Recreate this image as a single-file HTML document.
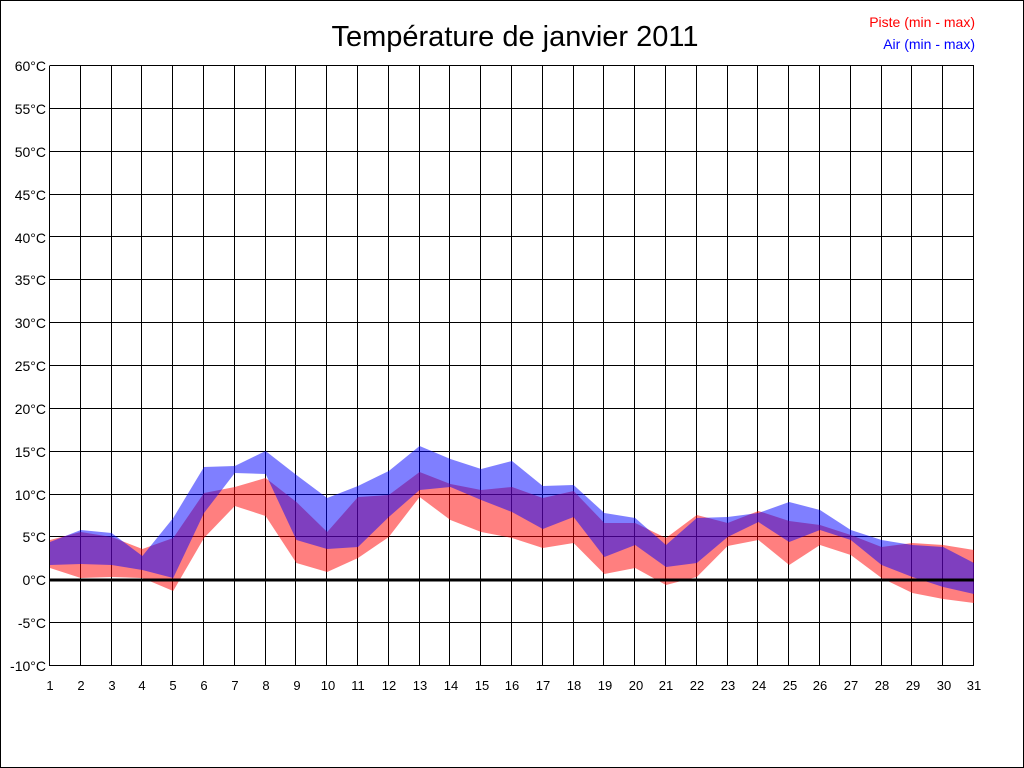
<!DOCTYPE html>
<html><head><meta charset="utf-8"><style>
html,body{margin:0;padding:0;background:#fff;}
svg{display:block;font-family:"Liberation Sans",sans-serif;}
</style></head><body>
<svg id="s" width="1024" height="768" xmlns="http://www.w3.org/2000/svg">
<rect x="0.5" y="0.5" width="1023" height="767" fill="#fff" stroke="#000"/>
<g id="grid" stroke="#000" stroke-width="1" shape-rendering="crispEdges"></g>
<g id="bands"></g>
<line x1="50" y1="580" x2="974" y2="580" stroke="#000" stroke-width="3"/>
<text x="515" y="46" font-size="29" text-anchor="middle">Température de janvier 2011</text>
<text x="975" y="27" font-size="14" text-anchor="end" fill="#f00">Piste (min - max)</text>
<text x="975" y="49" font-size="14" text-anchor="end" fill="#00f">Air (min - max)</text>
<g font-size="14" text-anchor="end" fill="#000">
<text x="46" y="71">60°C</text><text x="46" y="114">55°C</text><text x="46" y="157">50°C</text>
<text x="46" y="200">45°C</text><text x="46" y="243">40°C</text><text x="46" y="285">35°C</text>
<text x="46" y="328">30°C</text><text x="46" y="371">25°C</text><text x="46" y="414">20°C</text>
<text x="46" y="457">15°C</text><text x="46" y="500">10°C</text><text x="46" y="542">5°C</text>
<text x="46" y="585">0°C</text><text x="46" y="628">-5°C</text><text x="46" y="671">-10°C</text>
</g>
<g font-size="13" text-anchor="middle" fill="#000">
<text x="50" y="690">1</text><text x="81" y="690">2</text><text x="112" y="690">3</text><text x="142" y="690">4</text>
<text x="173" y="690">5</text><text x="204" y="690">6</text><text x="235" y="690">7</text><text x="266" y="690">8</text>
<text x="297" y="690">9</text><text x="328" y="690">10</text><text x="358" y="690">11</text><text x="389" y="690">12</text>
<text x="420" y="690">13</text><text x="451" y="690">14</text><text x="482" y="690">15</text><text x="512" y="690">16</text>
<text x="543" y="690">17</text><text x="574" y="690">18</text><text x="605" y="690">19</text><text x="636" y="690">20</text>
<text x="666" y="690">21</text><text x="697" y="690">22</text><text x="728" y="690">23</text><text x="759" y="690">24</text>
<text x="790" y="690">25</text><text x="820" y="690">26</text><text x="851" y="690">27</text><text x="882" y="690">28</text>
<text x="913" y="690">29</text><text x="944" y="690">30</text><text x="974" y="690">31</text>
</g>
</svg>
<script>
var NS="http://www.w3.org/2000/svg";
var g=document.getElementById("grid"),b=document.getElementById("bands");
function X(d){return 50+(d-1)*30.8;}
function el(p,t,a){var e=document.createElementNS(NS,t);for(var k in a)e.setAttribute(k,a[k]);p.appendChild(e);}
for(var d=1;d<=31;d++){var x=Math.round(X(d))-0.5;el(g,"line",{x1:x,y1:66,x2:x,y2:666});}
for(var i=0;i<=14;i++){var y=Math.round(66+i*600/14)-0.5;el(g,"line",{x1:49.5,y1:y,x2:974,y2:y});}
var rmax=[540,532,537,549,538,493,487,478,502,532,497,495,472,484,490,487,498,491,523,523,538,515,523,511,521,525,535,547,543,545,550];
var rmin=[568,578,577,578,591,538,506,516,563,572,558,537,497,520,532,538,548,543,574,568,585,577,546,540,565,545,555,578,593,599,603];
var bmax=[542,530,533,556,518,467,466,451,475,498,486,471,446,459,469,461,486,485,513,518,545,518,517,513,502,510,530,540,545,547,563];
var bmin=[565,564,565,570,578,513,473,474,540,549,547,517,490,487,500,512,529,517,557,545,567,563,537,522,542,530,540,565,577,587,594];
function poly(top,bot,c){var p=[];for(var i=0;i<31;i++)p.push(X(i+1)+","+top[i]);for(var i=30;i>=0;i--)p.push(X(i+1)+","+bot[i]);el(b,"polygon",{points:p.join(" "),fill:c,"fill-opacity":0.5});}
poly(rmax,rmin,"#ff0000");poly(bmax,bmin,"#0000ff");
</script>
</body></html>
